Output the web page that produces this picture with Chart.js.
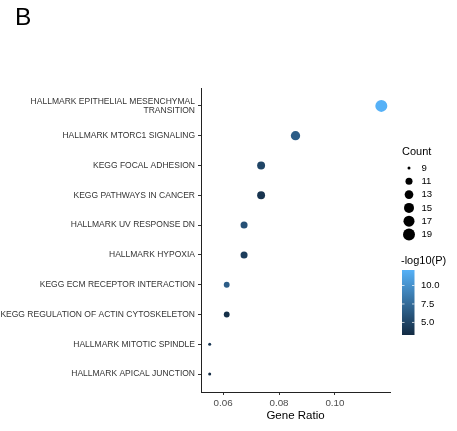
<!DOCTYPE html>
<html>
<head>
<meta charset="utf-8">
<script src="https://cdn.jsdelivr.net/npm/chart.js@4.4.1/dist/chart.umd.min.js"></script>
<style>
    body { margin: 0; background: #fff; }
    #wrap { position: relative; width: 457px; height: 431px; }
    #panel { position: absolute; left: 15px; top: 2px; font: 24.5px 'Liberation Sans', Arial, sans-serif; color: #000; line-height: 29px; }
</style>
</head>
<body>
<div id="wrap">
    <canvas id="dotplot" width="457" height="431"></canvas>
    <div id="panel">B</div>
</div>
<script>
// Pathways, top to bottom
const pathways = [
    ['HALLMARK EPITHELIAL MESENCHYMAL', 'TRANSITION'],
    'HALLMARK MTORC1 SIGNALING',
    'KEGG FOCAL ADHESION',
    'KEGG PATHWAYS IN CANCER',
    'HALLMARK UV RESPONSE DN',
    'HALLMARK HYPOXIA',
    'KEGG ECM RECEPTOR INTERACTION',
    'KEGG REGULATION OF ACTIN CYTOSKELETON',
    'HALLMARK MITOTIC SPINDLE',
    'HALLMARK APICAL JUNCTION'
];
const geneRatio = [0.1166, 0.0859, 0.0736, 0.0736, 0.0675, 0.0675, 0.0613, 0.0613, 0.0552, 0.0552];
const counts = [19, 14, 12, 12, 11, 11, 10, 10, 9, 9];
const negLogP = [12.1, 6.6, 5.0, 3.9, 5.8, 4.5, 6.6, 3.6, 4.1, 3.3];
const xTicks = [0.06, 0.08, 0.10];
const countBreaks = [9, 11, 13, 15, 17, 19];
const pBreaks = [5.0, 7.5, 10.0];

const FONT = "'Liberation Sans', Arial, sans-serif";
const LOW = [19, 43, 67];     // #132B43
const HIGH = [86, 177, 247];  // #56B1F7

const cMin = Math.min(...counts), cMax = Math.max(...counts);
const pMin = Math.min(...negLogP), pMax = Math.max(...negLogP);

function radiusFor(c) {
    return 1.5 + 4.5 * Math.sqrt((c - cMin) / (cMax - cMin));
}

function colorFor(v) {
    const t = (v - pMin) / (pMax - pMin);
    const rgb = LOW.map((lo, i) => Math.round(lo + (HIGH[i] - lo) * t));
    return 'rgb(' + rgb.join(',') + ')';
}

const n = pathways.length;
const points = geneRatio.map((g, i) => ({ x: g, y: n - i }));

// Right-hand legends: size keys and colour bar
const legendPlugin = {
    id: 'ggLegend',
    afterDraw(chart) {
        const ctx = chart.ctx;
        ctx.save();
        ctx.textBaseline = 'middle';
        ctx.textAlign = 'left';
        ctx.fillStyle = '#000';

        ctx.font = '11px ' + FONT;
        ctx.fillText('Count', 402, 151.5);
        ctx.font = '9.6px ' + FONT;
        countBreaks.forEach((c, i) => {
            const y = 168 + i * 13.3;
            ctx.beginPath();
            ctx.arc(409, y, radiusFor(c), 0, Math.PI * 2);
            ctx.fillStyle = '#000';
            ctx.fill();
            ctx.fillText(String(c), 421.5, y);
        });

        ctx.font = '11px ' + FONT;
        ctx.fillText('-log10(P)', 401, 261);
        const top = 270, bottom = 335, left = 402, w = 12.5;
        const grad = ctx.createLinearGradient(0, bottom, 0, top);
        grad.addColorStop(0, colorFor(pMin));
        grad.addColorStop(1, colorFor(pMax));
        ctx.fillStyle = grad;
        ctx.fillRect(left, top, w, bottom - top);
        ctx.font = '9.5px ' + FONT;
        pBreaks.forEach(v => {
            const y = bottom - (v - pMin) / (pMax - pMin) * (bottom - top);
            ctx.strokeStyle = 'rgba(255,255,255,0.9)';
            ctx.lineWidth = 0.8;
            ctx.beginPath();
            ctx.moveTo(left, y); ctx.lineTo(left + 2.5, y);
            ctx.moveTo(left + w - 2.5, y); ctx.lineTo(left + w, y);
            ctx.stroke();
            ctx.fillStyle = '#000';
            ctx.fillText(v.toFixed(1), 421, y);
        });
        ctx.restore();
    }
};

Chart.defaults.font.family = FONT;

new Chart(document.getElementById('dotplot'), {
    type: 'scatter',
    data: {
        datasets: [{
            data: points,
            pointRadius: counts.map(radiusFor),
            pointHoverRadius: counts.map(radiusFor),
            pointBackgroundColor: negLogP.map(colorFor),
            pointBorderWidth: 0,
            pointBorderColor: 'rgba(0,0,0,0)'
        }]
    },
    options: {
        responsive: false,
        animation: false,
        devicePixelRatio: 1,
        layout: { padding: { top: 88, right: 67, left: 0, bottom: 0 } },
        plugins: { legend: { display: false }, tooltip: { enabled: false } },
        scales: {
            x: {
                type: 'linear',
                min: 0.0521,
                max: 0.1197,
                afterBuildTicks: s => { s.ticks = xTicks.map(v => ({ value: v })); },
                afterFit: s => { s.height = 39; },
                grid: { drawOnChartArea: false, tickLength: 3, tickColor: '#333', tickWidth: 1 },
                border: { color: '#222', width: 1 },
                ticks: {
                    padding: 2,
                    color: '#4d4d4d',
                    font: { size: 9.8 },
                    callback: v => v.toFixed(2)
                },
                title: {
                    display: true,
                    text: 'Gene Ratio',
                    color: '#000',
                    font: { size: 11.5 },
                    padding: { top: 0, bottom: 8 }
                }
            },
            y: {
                type: 'linear',
                min: 0.4,
                max: n + 0.6,
                afterBuildTicks: s => { s.ticks = pathways.map((p, i) => ({ value: n - i })); },
                afterFit: s => { s.width = 201; },
                grid: { drawOnChartArea: false, tickLength: 3, tickColor: '#333', tickWidth: 1 },
                border: { color: '#222', width: 1 },
                ticks: {
                    padding: 3,
                    color: '#333',
                    font: { size: 8.5, lineHeight: 1.1 },
                    callback: v => pathways[n - v]
                }
            }
        }
    },
    plugins: [legendPlugin]
});
</script>
</body>
</html>
